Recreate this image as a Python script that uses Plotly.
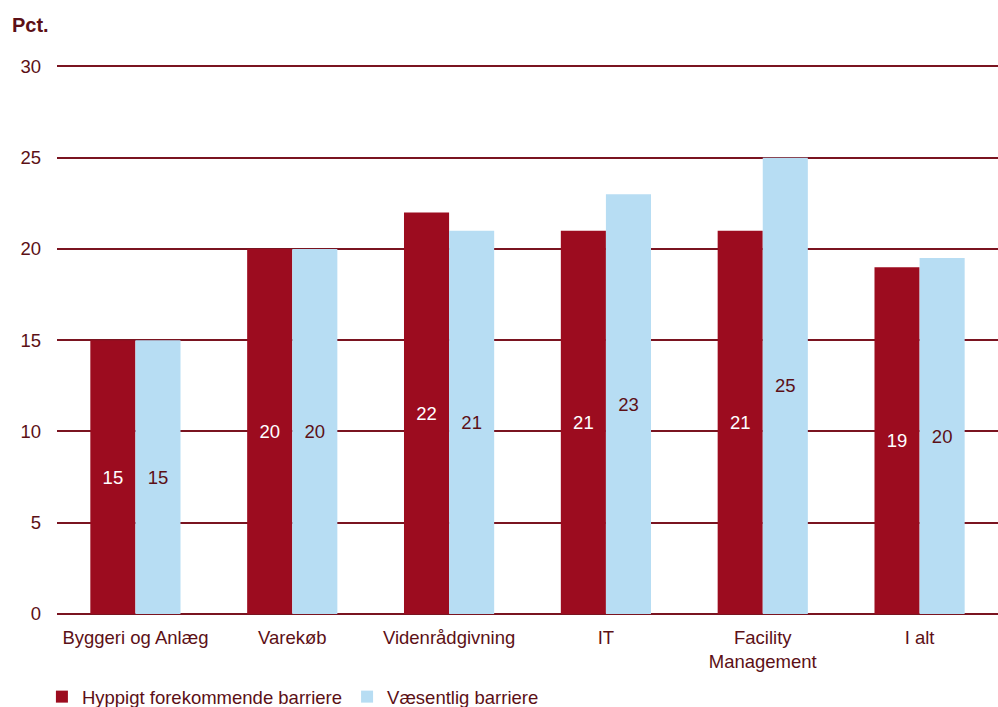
import plotly.graph_objects as go

# Sektorer og andele (pct.)
categories = ["Byggeri og Anlæg", "Varekøb", "Videnrådgivning", "IT",
              "Facility<br>Management", "I alt"]
hyppigt = [15, 20, 22, 21, 21, 19]
vaesentlig = [15, 20, 21, 23, 25, 19.5]
y_ticks = [0, 5, 10, 15, 20, 25, 30]

RED = "#9C0C1F"
BLUE = "#B7DDF3"
TEXT = "#5C1016"
GRID = "#7A1420"
FONT = "Liberation Sans, Arial, sans-serif"
FS = 18.5

fig = go.Figure()
fig.add_trace(go.Bar(
    x=categories, y=hyppigt, name="Hyppigt forekommende barriere",
    marker=dict(color=RED, line=dict(width=0)),
    texttemplate="%{y:.0f}", textposition="inside", insidetextanchor="middle",
    textfont=dict(color="white", size=FS, family=FONT), textangle=0,
))
fig.add_trace(go.Bar(
    x=categories, y=vaesentlig, name="Væsentlig barriere",
    marker=dict(color=BLUE, line=dict(width=0)),
    texttemplate="%{y:.0f}", textposition="inside", insidetextanchor="middle",
    textfont=dict(color=TEXT, size=FS, family=FONT), textangle=0,
))

fig.update_layout(
    width=998, height=707,
    margin=dict(l=57, r=0, t=61, b=93, autoexpand=False),
    paper_bgcolor="white", plot_bgcolor="white",
    barmode="group", bargap=0.425, bargroupgap=0,
    font=dict(family=FONT, size=FS, color=TEXT),
    uniformtext=dict(minsize=10, mode="show"),
    showlegend=True,
    legend=dict(orientation="h", x=0.042, xref="container", y=0.014, yref="container",
                xanchor="left", yanchor="middle",
                font=dict(size=FS, color=TEXT), itemwidth=30,
                traceorder="normal", bgcolor="rgba(0,0,0,0)"),
    xaxis=dict(showgrid=False, showline=False, ticks="", ticklabelstandoff=10,
               tickfont=dict(size=FS, color=TEXT)),
    yaxis=dict(range=[0, 30.3], tickvals=y_ticks, showgrid=True, gridcolor=GRID, gridwidth=2,
               zeroline=True, zerolinecolor=GRID, zerolinewidth=2, showline=False,
               ticks="", ticklabelstandoff=15, tickfont=dict(size=FS, color=TEXT)),
    annotations=[dict(text="<b>Pct.</b>", xref="paper", yref="paper", x=-0.05, y=1.0,
                      xanchor="left", yanchor="middle", yshift=36, showarrow=False,
                      font=dict(size=20, color=TEXT, family=FONT))],
)

fig.write_html("out.html")
